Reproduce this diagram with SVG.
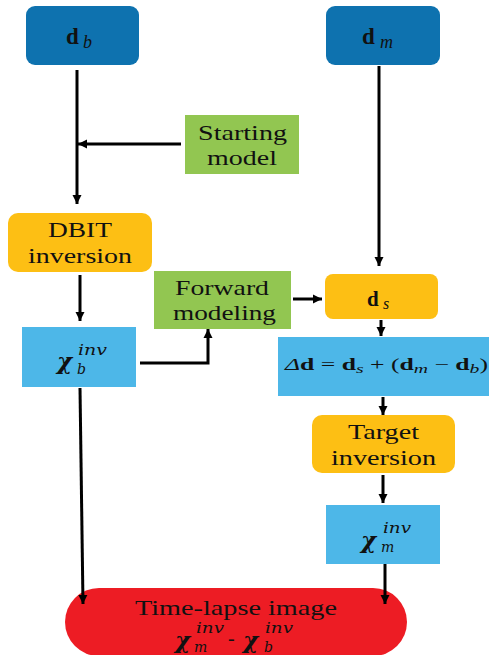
<svg xmlns="http://www.w3.org/2000/svg" width="489" height="655" viewBox="0 0 489 655">
<defs>
<marker id="ah" markerUnits="userSpaceOnUse" markerWidth="10" markerHeight="10" viewBox="0 0 10 10" refX="9" refY="5" orient="auto">
<path d="M0,0.5 L9,5 L0,9.5 Z" fill="#000"/>
</marker>
<style>
.lbl{font-family:"Liberation Serif","Times New Roman",serif;font-size:22px;fill:#111;}
.math{font-family:"Liberation Serif","Times New Roman",serif;fill:#111;}
.chi{font-family:"DejaVu Serif","Liberation Serif",serif;font-weight:bold;font-style:italic;font-size:23px;}
.scr{font-family:"DejaVu Serif","Liberation Serif",serif;font-style:italic;font-weight:normal;font-size:14px;}
.edge{stroke:#000;stroke-width:3;fill:none;marker-end:url(#ah);}
</style>
</defs>
<rect width="489" height="655" fill="#fff"/>
<g id="db">
<rect x="26" y="6" width="113" height="59" rx="9" fill="#0E72AF"/>
<text class="math" x="66" y="44" font-size="23"><tspan font-weight="bold">d</tspan><tspan font-style="italic" font-size="18" x="83" y="48">b</tspan></text>
</g>
<g id="dm">
<rect x="326" y="6" width="114" height="59" rx="9" fill="#0E72AF"/>
<text class="math" x="362" y="44" font-size="23"><tspan font-weight="bold">d</tspan><tspan font-style="italic" font-size="18" x="380" y="48">m</tspan></text>
</g>
<g id="starting">
<rect x="185" y="115" width="114" height="59" fill="#92C651"/>
<text class="lbl" x="198" y="140" textLength="89" lengthAdjust="spacingAndGlyphs">Starting</text>
<text class="lbl" x="207" y="165" textLength="70" lengthAdjust="spacingAndGlyphs">model</text>
</g>
<g id="dbit">
<rect x="8" y="213" width="144" height="59" rx="10" fill="#FDBF14"/>
<text class="lbl" x="48" y="237" textLength="64" lengthAdjust="spacingAndGlyphs">DBIT</text>
<text class="lbl" x="28" y="263" textLength="104" lengthAdjust="spacingAndGlyphs">inversion</text>
</g>
<g id="chib">
<rect x="22" y="327" width="114" height="60" fill="#4DB7E8"/>
<text class="math" fill="#111"><tspan class="chi" x="57" y="369">χ</tspan><tspan class="scr" x="78" y="355" textLength="29" lengthAdjust="spacingAndGlyphs">inv</tspan><tspan class="scr" x="77" y="374">b</tspan></text>
</g>
<g id="forward">
<rect x="154" y="271" width="137" height="58" fill="#92C651"/>
<text class="lbl" x="175" y="295" textLength="94" lengthAdjust="spacingAndGlyphs">Forward</text>
<text class="lbl" x="173" y="320" textLength="103" lengthAdjust="spacingAndGlyphs">modeling</text>
</g>
<g id="ds">
<rect x="325" y="274" width="113" height="45" rx="8" fill="#FDBF14"/>
<text class="math" x="367" y="306" font-size="21"><tspan font-weight="bold">d</tspan><tspan font-style="italic" font-size="16" x="383" y="309">s</tspan></text>
</g>
<g id="deltad">
<rect x="278" y="337" width="211" height="59" fill="#4DB7E8"/>
<text class="math" x="285" y="370" font-size="17" textLength="203" lengthAdjust="spacingAndGlyphs"><tspan font-style="italic">Δ</tspan><tspan font-weight="bold">d</tspan> = <tspan font-weight="bold">d</tspan><tspan font-style="italic" font-size="13" dy="3">s</tspan><tspan dy="-3"> + (</tspan><tspan font-weight="bold">d</tspan><tspan font-style="italic" font-size="13" dy="3">m</tspan><tspan dy="-3"> − </tspan><tspan font-weight="bold">d</tspan><tspan font-style="italic" font-size="13" dy="3">b</tspan><tspan dy="-3">)</tspan></text>
</g>
<g id="target">
<rect x="312" y="415" width="143" height="58" rx="10" fill="#FDBF14"/>
<text class="lbl" x="348" y="439" textLength="71" lengthAdjust="spacingAndGlyphs">Target</text>
<text class="lbl" x="331" y="465" textLength="105" lengthAdjust="spacingAndGlyphs">inversion</text>
</g>
<g id="chim">
<rect x="326" y="505" width="114" height="59" fill="#4DB7E8"/>
<text class="math" fill="#111"><tspan class="chi" x="361" y="548">χ</tspan><tspan class="scr" x="383" y="533" textLength="28" lengthAdjust="spacingAndGlyphs">inv</tspan><tspan class="scr" x="381" y="552">m</tspan></text>
</g>
<g id="timelapse">
<rect x="65" y="588" width="342" height="68" rx="34" fill="#ED1C24"/>
<text class="lbl" x="135" y="615" textLength="202" lengthAdjust="spacingAndGlyphs">Time-lapse image</text>
<text class="math" fill="#111"><tspan class="chi" x="175" y="648">χ</tspan><tspan class="scr" x="196" y="633" textLength="28" lengthAdjust="spacingAndGlyphs">inv</tspan><tspan class="scr" x="194" y="652">m</tspan><tspan font-size="20" x="228" y="645">-</tspan><tspan class="chi" x="243" y="648">χ</tspan><tspan class="scr" x="265" y="633" textLength="28" lengthAdjust="spacingAndGlyphs">inv</tspan><tspan class="scr" x="264" y="652">b</tspan></text>
</g>
<g id="connectors">
<line class="edge" x1="77" y1="70" x2="77" y2="204"/>
<line class="edge" x1="181" y1="144" x2="78" y2="144"/>
<line class="edge" x1="379" y1="66" x2="379" y2="266"/>
<line class="edge" x1="80" y1="275" x2="80" y2="321"/>
<polyline class="edge" points="140,363 208,363 208,329"/>
<line class="edge" x1="293" y1="299" x2="322" y2="299"/>
<line class="edge" x1="381" y1="320" x2="381" y2="336"/>
<line class="edge" x1="383" y1="397" x2="383" y2="415"/>
<line class="edge" x1="383" y1="475" x2="383" y2="503"/>
<line class="edge" x1="385" y1="564" x2="385" y2="604"/>
<line class="edge" x1="80" y1="388" x2="83" y2="604"/>
</g>
</svg>
